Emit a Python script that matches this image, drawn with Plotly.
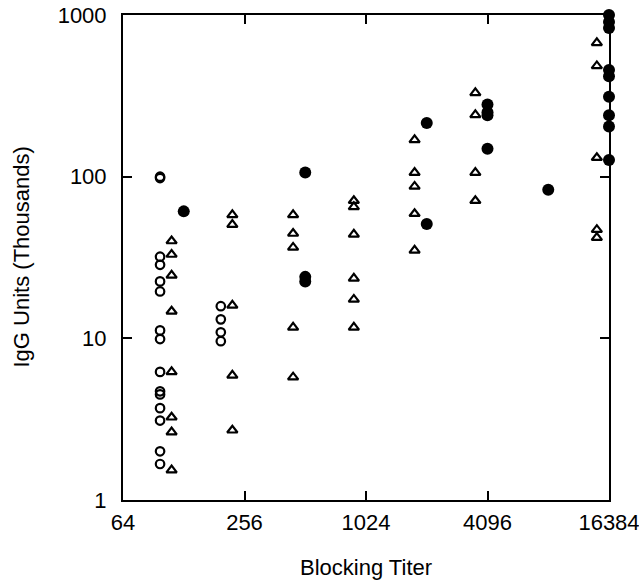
import math
import plotly.graph_objects as go

# ---- data ----
x_ticks = [64, 256, 1024, 4096, 16384]
x_tick_labels = ["64", "256", "1024", "4096", "16384"]
y_ticks = [1, 10, 100, 1000]
y_tick_labels = ["1", "10", "100", "1000"]
x_title = "Blocking Titer"
y_title = "IgG Units (Thousands)"

# open circles
circ_titer = [128]*15 + [256]*4
circ_igg = [100, 98, 32, 28.5, 22.5, 19.5, 11.2, 9.9, 6.2, 4.7, 4.5, 3.7, 3.1, 2.0, 1.67,
            15.8, 13.1, 10.9, 9.6]

# open triangles
tri_titer = [128]*8 + [256]*5 + [512]*5 + [1024]*6 + [2048]*5 + [4096]*4 + [16384]*5
tri_igg = [40, 33, 24.5, 14.7, 6.2, 3.25, 2.63, 1.53,
           58, 50.5, 16, 5.9, 2.7,
           58, 44.5, 36.5, 11.7, 5.75,
           71, 65, 44, 23.5, 17.4, 11.7,
           169, 106, 87, 59, 35,
           330, 241, 106, 71,
           672, 484, 131, 47, 42]

# filled circles
fill_titer = [128] + [512]*3 + [2048]*2 + [4096]*4 + [8192] + [16384]*9
fill_igg = [61,
            106, 24, 22.5,
            215, 51,
            280, 250, 240, 149,
            83,
            1000, 905, 830, 457, 418, 312, 240, 204, 127]

# horizontal display offsets (in doublings) so symbols in a column do not overlap
def shift(vals, doublings):
    return [v * 2 ** doublings for v in vals]

fig = go.Figure()
fig.add_trace(go.Scatter(
    x=shift(circ_titer, -0.39), y=circ_igg, mode="markers", cliponaxis=False,
    marker=dict(symbol="circle-open", size=8.5, color="black", line=dict(width=2.2, color="black")),
    showlegend=False))
fig.add_trace(go.Scatter(
    x=shift(tri_titer, -0.2), y=tri_igg, mode="markers", cliponaxis=False,
    marker=dict(symbol="triangle-up-open", size=9, color="black", line=dict(width=2.2, color="black")),
    showlegend=False))
fig.add_trace(go.Scatter(
    x=fill_titer, y=fill_igg, mode="markers", cliponaxis=False,
    marker=dict(symbol="circle", size=12, color="black", line=dict(width=0)),
    showlegend=False))

tick_font = dict(family="Liberation Sans, Arial, sans-serif", size=22, color="black")
title_font = dict(family="Liberation Sans, Arial, sans-serif", size=22, color="black")
axis_common = dict(
    showline=True, linecolor="black", linewidth=2, mirror="ticks",
    ticks="inside", ticklen=9, tickwidth=2, tickcolor="black",
    showgrid=False, zeroline=False, tickfont=tick_font, automargin=False,
    ticklabeloverflow="allow",
)
fig.update_xaxes(type="log", range=[math.log10(64), math.log10(16384)],
                 tickvals=x_ticks, ticktext=x_tick_labels,
                 ticklabelstandoff=2, **axis_common)
fig.update_yaxes(type="log", range=[0, 3],
                 tickvals=y_ticks, ticktext=y_tick_labels,
                 ticklabelstandoff=10, **axis_common)
fig.add_annotation(text=x_title, xref="paper", yref="paper", x=0.5, y=0,
                   xanchor="center", yanchor="middle",
                   yshift=-67, showarrow=False, font=title_font)
fig.add_annotation(text=y_title, xref="paper", yref="paper", x=0, y=0.5,
                   xanchor="center", yanchor="middle",
                   xshift=-102, textangle=-90, showarrow=False, font=title_font)
fig.update_layout(
    width=639, height=581,
    margin=dict(l=123, r=30, t=15, b=81),
    plot_bgcolor="white", paper_bgcolor="white",
    font=tick_font,
    hovermode=False,
)
fig.write_html("out.html",
               config={"displayModeBar": False, "staticPlot": True},
               post_script="document.body.style.margin='0';document.body.style.overflow='hidden';")
